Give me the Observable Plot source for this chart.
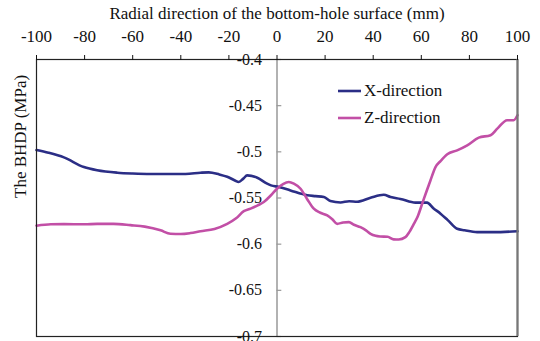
<!DOCTYPE html>
<html>
<head>
<meta charset="utf-8">
<script src="https://cdn.jsdelivr.net/npm/d3@7"></script>
<script src="https://cdn.jsdelivr.net/npm/@observablehq/plot@0.6"></script>
<style>
  html, body { margin: 0; padding: 0; background: #fff; }
  #wrap { position: relative; width: 540px; height: 341px; font-family: "Liberation Serif", "Times New Roman", serif; }
  #legend { position: absolute; left: 338px; top: 78px; font-size: 17px; color: #111; line-height: 26.5px; }
  #legend .row { display: flex; align-items: center; }
  #legend svg { margin-right: 2px; }
</style>
</head>
<body>
<div id="wrap"></div>
<script>
const xTicks = [-100, -80, -60, -40, -20, 0, 20, 40, 60, 80, 100];
const yTicks = [-0.4, -0.45, -0.5, -0.55, -0.6, -0.65, -0.7];
const yTickLabels = ["-0.4", "-0.45", "-0.5", "-0.55", "-0.6", "-0.65", "-0.7"];
const seriesNames = ["X-direction", "Z-direction"];
const seriesColors = ["#2B2E86", "#C24FA6"];

const xDirPos = [-100, -95, -88.6, -80.3, -74.8, -66.4, -60, -52.6, -45, -38, -31.8, -28.4, -24, -20.7, -17.5, -15.9, -14, -12.4, -8.2, -4.1, -2.5, 0.75, 5.6, 12.6, 16, 19.5, 22.2, 26.4, 30, 33.3, 38.9, 44.4, 47.2, 51.3, 57.6, 62.4, 65, 68, 71, 74.9, 78, 83.2, 90, 100];
const xDirVal = [-0.498, -0.501, -0.506, -0.5165, -0.520, -0.5226, -0.5235, -0.524, -0.524, -0.524, -0.5226, -0.5222, -0.5245, -0.527, -0.531, -0.5327, -0.529, -0.5255, -0.528, -0.5345, -0.5363, -0.538, -0.5418, -0.547, -0.548, -0.549, -0.5533, -0.5548, -0.5535, -0.554, -0.5497, -0.5465, -0.549, -0.551, -0.555, -0.555, -0.561, -0.567, -0.574, -0.5833, -0.585, -0.587, -0.587, -0.586];

const zDirPos = [-100, -94, -88.6, -80, -74.8, -68, -60.9, -55, -48.4, -44.3, -40, -36, -31.8, -26, -20.7, -17, -13.8, -11, -8, -5.5, -2.5, 0, 2.5, 4.9, 7, 9.8, 12.5, 15.3, 18, 20.9, 23, 25, 27.5, 29.9, 32, 34.7, 37, 38.9, 41, 43, 46, 48.5, 50.6, 53.4, 55, 56.9, 58.5, 60.4, 62, 63.8, 65.9, 68, 70.8, 74.9, 79.1, 83.9, 88.8, 91.6, 95.7, 98.4, 100];
const zDirVal = [-0.580, -0.5785, -0.5783, -0.5785, -0.578, -0.578, -0.5794, -0.581, -0.585, -0.5888, -0.589, -0.588, -0.586, -0.5835, -0.578, -0.572, -0.5642, -0.5615, -0.558, -0.5544, -0.547, -0.540, -0.535, -0.5327, -0.5345, -0.540, -0.551, -0.5616, -0.566, -0.5689, -0.573, -0.578, -0.5765, -0.5761, -0.579, -0.5816, -0.585, -0.5888, -0.591, -0.5917, -0.592, -0.5948, -0.595, -0.5924, -0.587, -0.578, -0.570, -0.556, -0.544, -0.531, -0.5165, -0.510, -0.5027, -0.4984, -0.493, -0.4846, -0.482, -0.4749, -0.4658, -0.4658, -0.4604];

const xData = xDirPos.map((x, i) => ({x, y: xDirVal[i]}));
const zData = zDirPos.map((x, i) => ({x, y: zDirVal[i]}));

const font = '"Liberation Serif", "Times New Roman", serif';

const chart = Plot.plot({
  width: 540,
  height: 341,
  marginTop: 59,
  marginLeft: 36,
  marginRight: 23,
  marginBottom: 5,
  style: { fontFamily: font, fontSize: "17px", color: "#111", background: "#fff", overflow: "visible" },
  x: { domain: [-100, 100] },
  y: { domain: [-0.7, -0.4], axis: null },
  marks: [
    Plot.ruleX([0], { stroke: "#999", strokeWidth: 1.5 }),
    Plot.ruleY(yTicks, { y: d => d, x1: () => 0, x2: () => 2, stroke: "#999", strokeWidth: 1.2 }),
    Plot.line(xData, { x: "x", y: "y", stroke: seriesColors[0], strokeWidth: 2.6, curve: "monotone-x" }),
    Plot.line(zData, { x: "x", y: "y", stroke: seriesColors[1], strokeWidth: 2.6, curve: "monotone-x" }),
    Plot.frame({ stroke: "#222", strokeWidth: 1.2 }),
    Plot.ruleX([100], { stroke: "#777", strokeWidth: 2.2 }),
    Plot.text(yTicks, { x: () => 0, y: d => d, text: (d, i) => yTickLabels[i], dx: -15, textAnchor: "end", fontSize: 16, fontFamily: font, fill: "#111" }),
    Plot.axisX({ anchor: "top", ticks: xTicks, tickFormat: d => String(d), tickSize: 5, tickPadding: 13, fontSize: 17, fontFamily: font, label: "Radial direction of the bottom-hole surface (mm)", labelAnchor: "center", labelArrow: "none", labelOffset: 53 }),
    Plot.text(["The BHDP (MPa)"], { frameAnchor: "left", dx: -16, rotate: -90, fontSize: 17, fontFamily: font, fill: "#111", text: d => d })
  ]
});

const wrap = document.getElementById("wrap");
wrap.appendChild(chart);

const legend = document.createElement("div");
legend.id = "legend";
seriesNames.forEach((name, i) => {
  const row = document.createElement("div");
  row.className = "row";
  row.innerHTML = `<svg width="24" height="6"><line x1="0" y1="3" x2="23" y2="3" stroke="${seriesColors[i]}" stroke-width="2.6"/></svg><span>${name}</span>`;
  legend.appendChild(row);
});
wrap.appendChild(legend);
</script>
</body>
</html>
